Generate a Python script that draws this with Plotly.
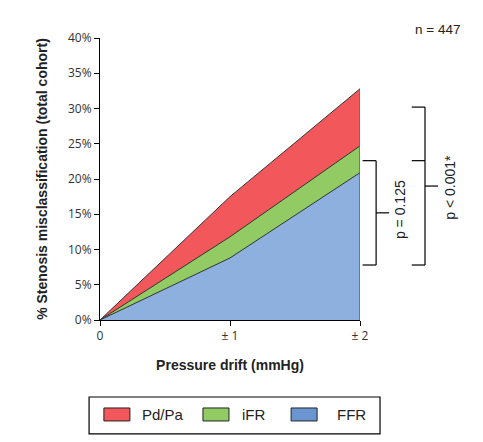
import plotly.graph_objects as go

# Misclassification by pressure drift
drift = [0, 1, 2]
drift_labels = ['0', '± 1', '± 2']

pdpa = [0, 17.5, 32.8]
ifr = [0, 11.8, 24.7]
ffr = [0, 8.8, 20.9]

names = ['Pd/Pa', 'iFR', 'FFR']
fills = ['#F2575C', '#92CA64', '#8DB0DE']
swatches = ['#F2575C', '#92CA64', '#6A95D1']

fig = go.Figure()

# drawn back to front so the smaller areas sit on top
for vals, name, col in zip([pdpa, ifr, ffr], names, fills):
    fig.add_trace(go.Scatter(
        x=drift, y=vals, name=name, mode='lines',
        fill='tozeroy', fillcolor=col,
        line=dict(color='#333333', width=1),
        showlegend=False,
    ))

# right edge of the areas
fig.add_shape(type='line', x0=drift[-1], x1=drift[-1], y0=0, y1=pdpa[-1],
              xref='x', yref='y', line=dict(color='#666666', width=1.5))

# significance brackets
br = dict(color='black', width=1.2)
def bracket(x0, x1, xt, ytop, ybot, ymid):
    fig.add_shape(type='line', xref='paper', yref='y', x0=x0, x1=x1, y0=ytop, y1=ytop, line=br)
    fig.add_shape(type='line', xref='paper', yref='y', x0=x0, x1=x1, y0=ybot, y1=ybot, line=br)
    fig.add_shape(type='line', xref='paper', yref='y', x0=x1, x1=x1, y0=ybot, y1=ytop, line=br)
    fig.add_shape(type='line', xref='paper', yref='y', x0=x1, x1=xt, y0=ymid, y1=ymid, line=br)

bracket(1.010, 1.062, 1.112, 22.6, 7.8, 15.2)
bracket(1.199, 1.250, 1.300, 30.2, 7.8, 19.0)
fig.add_shape(type='line', xref='paper', yref='y', x0=1.199, x1=1.250, y0=22.6, y1=22.6, line=br)

txt = dict(family='Liberation Sans, Arial', size=14, color='#222')
fig.add_annotation(x=1.154, y=15.6, xref='paper', yref='y', text='p = 0.125',
                   textangle=-90, showarrow=False, xanchor='center', yanchor='middle', font=txt)
fig.add_annotation(x=1.346, y=18.9, xref='paper', yref='y', text='p < 0.001*',
                   textangle=-90, showarrow=False, xanchor='center', yanchor='middle', font=txt)
fig.add_annotation(x=1.297, y=1.03, xref='paper', yref='paper', text='n = 447',
                   showarrow=False, xanchor='center', yanchor='middle',
                   font=dict(family='Liberation Sans, Arial', size=13.5, color='#222'))

# hand-drawn legend box
fig.add_shape(type='rect', xref='paper', yref='paper', x0=-0.042, x1=1.077,
              y0=-0.404, y1=-0.273, line=dict(color='black', width=1.2))
sw_x = [0.015, 0.396, 0.735]
tx_x = [0.154, 0.538, 0.904]
for name, col, sx, tx in zip(names, swatches, sw_x, tx_x):
    fig.add_shape(type='rect', xref='paper', yref='paper', x0=sx, x1=sx + 0.1,
                  y0=-0.358, y1=-0.312, fillcolor=col, line=dict(color='#222', width=1))
    fig.add_annotation(x=tx, y=-0.335, xref='paper', yref='paper', text=name,
                       xanchor='left', yanchor='middle', showarrow=False,
                       font=dict(family='Liberation Sans, Arial', size=15, color='#222'))

# page body has an 8px margin, so the figure is a bit smaller and shifted
fig.update_layout(
    width=475, height=434,
    margin=dict(l=92, r=123, t=30, b=122),
    plot_bgcolor='white', paper_bgcolor='white',
    xaxis=dict(
        range=[0, 2], tickvals=drift, ticktext=drift_labels,
        showgrid=False, zeroline=False, showline=True, linecolor='black', linewidth=1,
        ticks='outside', ticklen=5, tickcolor='black',
        tickfont=dict(family='Open Sans', size=12, color='#333'),
        title=dict(text='<b>Pressure drift (mmHg)</b>', standoff=16,
                   font=dict(family='Liberation Sans, Arial', size=14, color='#222')),
    ),
    yaxis=dict(
        range=[0, 40], dtick=5, ticksuffix='%',
        showgrid=False, zeroline=False, showline=True, linecolor='black', linewidth=1,
        ticks='outside', ticklen=5, tickcolor='black',
        tickfont=dict(family='Open Sans', size=12, color='#333'),
        title=dict(text='<b>% Stenosis misclassification (total cohort)</b>', standoff=17,
                   font=dict(family='Liberation Sans, Arial', size=14, color='#222')),
    ),
)

fig.write_html('out.html')
